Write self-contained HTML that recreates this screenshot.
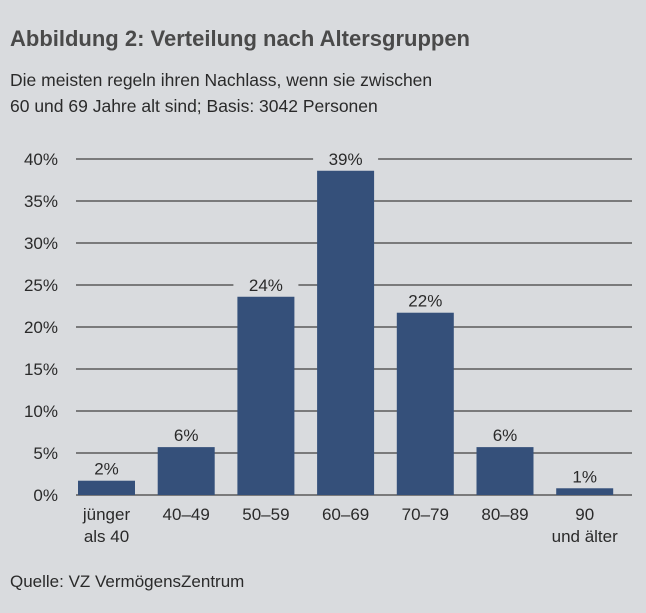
<!DOCTYPE html>
<html><head><meta charset="utf-8"><style>
body{margin:0;width:646px;height:613px;background:#d9dbde;font-family:"Liberation Sans",sans-serif;color:#2a2a2a;position:relative;overflow:hidden}
.t{position:absolute;white-space:nowrap}
</style></head><body>
<div class="t" style="left:10px;top:26px;font-size:22px;font-weight:bold;color:#4a4a4a">Abbildung 2: Verteilung nach Altersgruppen</div>
<div class="t" style="left:10px;top:67px;font-size:17.5px;line-height:26px">Die meisten regeln ihren Nachlass, wenn sie zwischen<br>60 und 69 Jahre alt sind; Basis: 3042 Personen</div>
<svg id="c" width="646" height="560" style="position:absolute;left:0;top:0"></svg>
<div class="t" style="left:10px;top:572px;font-size:17px">Quelle: VZ VermögensZentrum</div>
<script>
const categories=["jünger\nals 40","40–49","50–59","60–69","70–79","80–89","90\nund älter"];
const values=[1.7,5.7,23.6,38.6,21.7,5.7,0.8];
const valueLabels=["2%","6%","24%","39%","22%","6%","1%"];
const ticks=[0,5,10,15,20,25,30,35,40];
const svg=document.getElementById('c');const NS='http://www.w3.org/2000/svg';
const y0=495,pxPer=8.4,x0=76,x1=632,slot=79.7,bw=57,firstC=106.5;
const y=v=>y0-v*pxPer, xc=i=>firstC+slot*i;
function mk(t,a){const e=document.createElementNS(NS,t);for(const k in a)e.setAttribute(k,a[k]);svg.appendChild(e);return e;}
ticks.forEach(t=>{
 const l=mk('line',{x1:x0,x2:x1,y1:y(t),y2:y(t),stroke:'#5a5a5a','stroke-width':1.6});
 
 
 const tx=mk('text',{x:58,y:y(t)+6,'text-anchor':'end','font-size':17,fill:'#2a2a2a'});tx.textContent=t+'%';
 
 
});
values.forEach((v,i)=>{
 const lt=mk('rect',{x:xc(i)-bw/2-4,y:y(v)-24,width:bw+8,height:22,fill:'#d9dbde'});
 
 
 const r=mk('rect',{x:xc(i)-bw/2,y:y(v),width:bw,height:y0-y(v),fill:'#35507a'});
 
 
 const t=mk('text',{x:xc(i),y:y(v)-6,'text-anchor':'middle','font-size':17,fill:'#2a2a2a'});t.textContent=valueLabels[i];
 
 
 categories[i].split('\n').forEach((s,j)=>{
  const c=mk('text',{x:xc(i),y:520+j*22,'text-anchor':'middle','font-size':17,fill:'#2a2a2a'});c.textContent=s;
  
  
 });
});
</script>
</body></html>
